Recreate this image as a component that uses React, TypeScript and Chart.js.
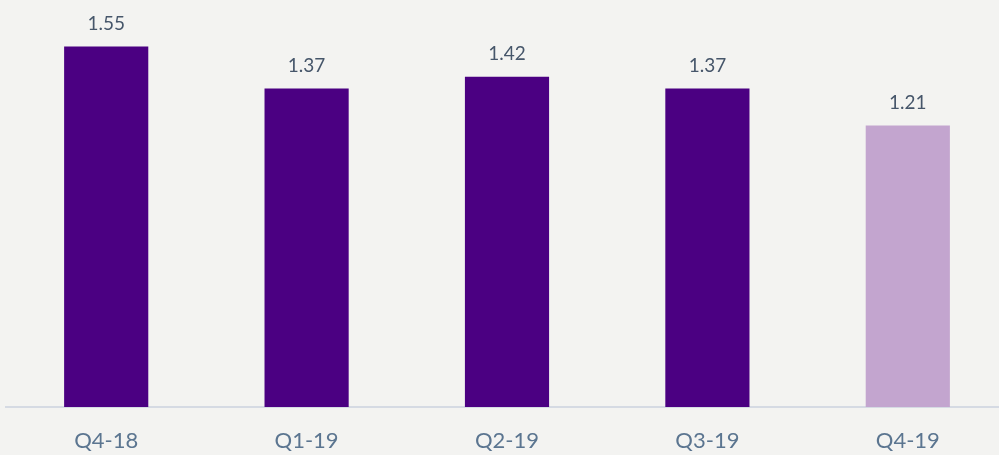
import React, { useEffect, useRef } from "react";
import { Chart, registerables } from "chart.js";

Chart.register(...registerables);

const categories = ["Q4-18", "Q1-19", "Q2-19", "Q3-19", "Q4-19"];
const values = [1.55, 1.37, 1.42, 1.37, 1.21];
const barColors = ["#4b0082", "#4b0082", "#4b0082", "#4b0082", "#c3a5cf"];

const valueLabels = {
  id: "valueLabels",
  afterDatasetsDraw(chart: any) {
    const ctx = chart.ctx;
    const meta = chart.getDatasetMeta(0);
    ctx.save();
    ctx.font = "19px Lato";
    ctx.fillStyle = "#46566a";
    ctx.textAlign = "center";
    ctx.textBaseline = "bottom";
    meta.data.forEach((bar: any, i: number) => {
      ctx.fillText(values[i].toFixed(2), bar.x, bar.y - 13);
    });
    ctx.restore();
  },
};

export default function App() {
  const ref = useRef<HTMLCanvasElement>(null);
  useEffect(() => {
    document.body.style.margin = "0";
    document.body.style.background = "#f3f3f1";
    const chart = new Chart(ref.current!, {
      type: "bar",
      data: {
        labels: categories,
        datasets: [
          {
            data: values,
            backgroundColor: barColors,
            barPercentage: 0.42,
            categoryPercentage: 1,
          },
        ],
      },
      options: {
        animation: false,
        responsive: false,
        maintainAspectRatio: false,
        layout: { padding: { left: 6, right: 0, top: 0, bottom: 0 } },
        plugins: { legend: { display: false }, tooltip: { enabled: false } },
        scales: {
          x: {
            grid: { display: false, drawTicks: false },
            border: { display: true, color: "#d5dae3", width: 2 },
            ticks: {
              color: "#5b7590",
              font: { family: "Lato", size: 22 },
              padding: 21,
              maxRotation: 0,
            },
            afterFit(scale: any) {
              scale.height = 48;
            },
          },
          y: {
            display: false,
            min: 0,
            max: 1.75,
          },
        },
      },
      plugins: [valueLabels],
    });
    return () => chart.destroy();
  }, []);
  return (
    <div style={{ width: 999, height: 455, overflow: "hidden", background: "#f3f3f1" }}>
      <canvas ref={ref} width={1008} height={455} style={{ display: "block" }} />
    </div>
  );
}
